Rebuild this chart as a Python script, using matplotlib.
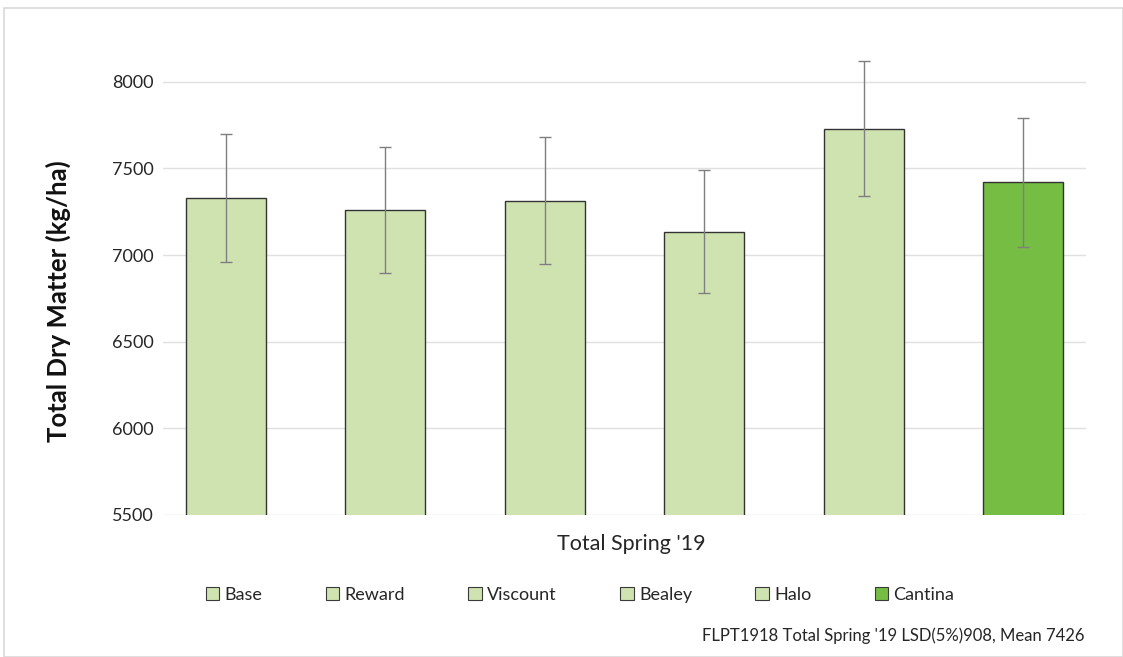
import matplotlib.pyplot as plt
from matplotlib.patches import Rectangle, Patch
import numpy as np

plt.rcParams['font.family'] = ['Lato', 'DejaVu Sans']

# data
varieties = ['Base', 'Reward', 'Viscount', 'Bealey', 'Halo', 'Cantina']
dry_matter = [7327, 7261, 7314, 7134, 7729, 7420]
err_low = [368, 365, 367, 355, 388, 373]
err_high = [369, 365, 368, 358, 388, 373]
colors = ['#cfe3b1', '#cfe3b1', '#cfe3b1', '#cfe3b1', '#cfe3b1', '#76bd44']
yticks = [5500, 6000, 6500, 7000, 7500, 8000]
footnote = "FLPT1918 Total Spring '19 LSD(5%)908, Mean 7426"

W, H = 1123, 657
fig = plt.figure(figsize=(W / 100, H / 100), dpi=100)
# light frame round the chart
fig.patches.append(Rectangle((4 / W, 0), 1 - 4 / W, 1 - 8 / H, transform=fig.transFigure,
                             fill=False, edgecolor='#d9d9d9', linewidth=1.2))

ax = fig.add_axes([163 / W, 1 - 515 / H, (1086 - 163) / W, (515 - 38.4) / H])
x = np.arange(len(varieties))
bars = ax.bar(x, dry_matter, width=0.5, color=colors, edgecolor='#333333', linewidth=1.0, zorder=2)
ax.errorbar(x, dry_matter, yerr=[err_low, err_high], fmt='none', ecolor='#7f7f7f',
            elinewidth=1.0, capsize=4, capthick=1.0, zorder=3)

ax.set_ylim(5500, 8250)
ax.set_xlim(-0.25 - 23 / 159, 5.25 + 23 / 159)
ax.set_yticks(yticks)
ax.set_xticks([])
ax.yaxis.grid(True, color='#e0e0e0', linewidth=1.0, zorder=0)
ax.set_axisbelow(True)
for s in ax.spines.values():
    s.set_visible(False)
ax.tick_params(axis='y', length=0, pad=7, labelsize=13, labelcolor='#262626')

fig.text(58 / W, 1 - 301 / H, 'Total Dry Matter (kg/ha)', rotation=90, ha='center', va='center',
         fontsize=18.5, fontweight='bold', color='#111111')
fig.text(631 / W, 1 - 544 / H, "Total Spring '19", ha='center', va='center', fontsize=15.5, color='#262626')

handles = [Patch(facecolor=c, edgecolor='#3a3a3a', linewidth=0.8) for c in colors]
fig.legend(handles, varieties, loc='center', bbox_to_anchor=(580 / W, 1 - 595 / H), ncol=6,
           frameon=False, fontsize=13, handlelength=0.75, handleheight=0.75, handletextpad=0.3,
           columnspacing=3.5, labelcolor='#262626')

fig.text(1084 / W, 1 - 636 / H, footnote, ha='right', va='center', fontsize=12, color='#262626')

plt.savefig('out.png', dpi=100)
